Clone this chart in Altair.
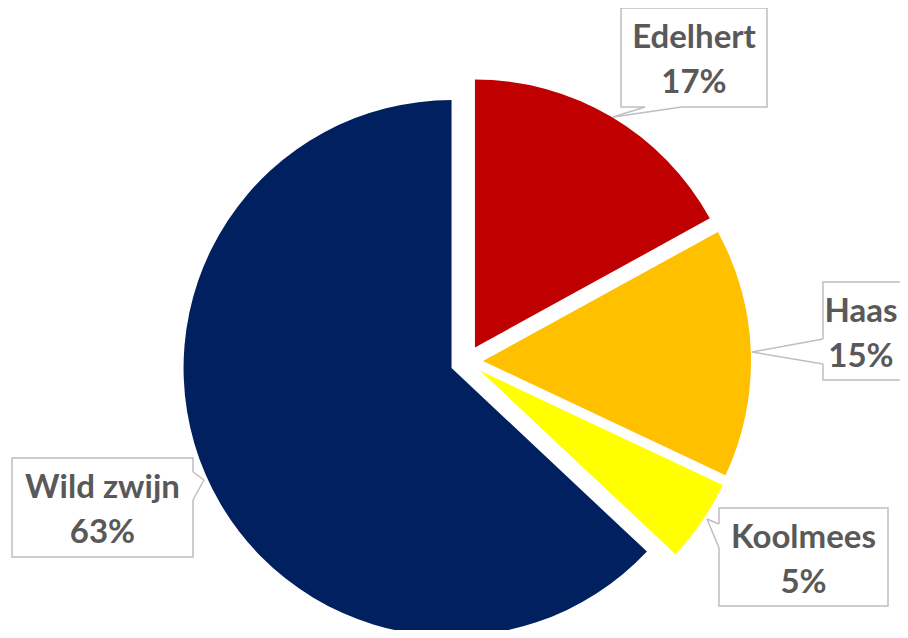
import altair as alt
import pandas as pd

# ---- data ----
categories = ["Edelhert", "Haas", "Koolmees", "Wild zwijn"]
values = [17, 15, 5, 63]
colors = ["#C00000", "#FFC000", "#FFFF00", "#002060"]

# ---- layout (pixels inside the chart) ----
PIE_CX, PIE_CY, PIE_R, EXPLODE = 458.6, 353.6, 268, 16.4
box_x1 = [613, 815, 711, 4]
box_x2 = [759, 912, 880, 185]
box_y1 = [0, 274, 500, 450]
box_y2 = [99, 372, 598, 549]
ptr_ax = [637, 815, 711, 185]
ptr_ay = [99, 331, 516, 464]
ptr_bx = [674, 815, 711, 185]
ptr_by = [99, 356, 540, 492]
tip_x = [605, 744, 699, 196]
tip_y = [109, 344, 511, 472]
text_x = [686, 853, 795.5, 94.5]

W, H = 892, 622
FONT = "Lato"
FS = 33
TXT = "#595959"
BORDER = "#BFBFBF"

pie_df = pd.DataFrame({"cat": categories, "value": values, "order": list(range(len(categories)))})

pie = (
    alt.Chart(pie_df)
    .transform_joinaggregate(total="sum(value)")
    .transform_window(cum="sum(value)", sort=[alt.SortField("order")], frame=[None, 0])
    .transform_calculate(t0="2*PI*(datum.cum - datum.value)/datum.total")
    .transform_calculate(t1="2*PI*datum.cum/datum.total")
    .transform_calculate(mid="(datum.t0 + datum.t1)/2")
    .transform_calculate(cx=f"{PIE_CX} + {EXPLODE}*sin(datum.mid)")
    .transform_calculate(cy=f"{PIE_CY} - {EXPLODE}*cos(datum.mid)")
    .mark_arc(radius=PIE_R)
    .encode(
        theta=alt.Theta("t0:Q", scale=None),
        theta2="t1:Q",
        x=alt.X("cx:Q", scale=None),
        y=alt.Y("cy:Q", scale=None),
        color=alt.Color("cat:N", scale=alt.Scale(domain=categories, range=colors), legend=None),
    )
)

lab_df = pd.DataFrame({
    "cat": categories, "value": values,
    "bx1": box_x1, "bx2": box_x2, "by1": box_y1, "by2": box_y2,
    "ax": ptr_ax, "ay": ptr_ay, "bx": ptr_bx, "by": ptr_by,
    "tx": tip_x, "ty": tip_y, "cxt": text_x,
})

base = alt.Chart(lab_df)

boxes = base.mark_rect(fill="white", stroke=BORDER, strokeWidth=1.5).encode(
    x=alt.X("bx1:Q", scale=None), x2="bx2:Q",
    y=alt.Y("by1:Q", scale=None), y2="by2:Q",
)
cover = base.mark_rule(color="white", strokeWidth=3).encode(
    x=alt.X("ax:Q", scale=None), x2="bx:Q",
    y=alt.Y("ay:Q", scale=None), y2="by:Q",
)
line_a = base.mark_rule(color=BORDER, strokeWidth=1.5).encode(
    x=alt.X("ax:Q", scale=None), x2="tx:Q",
    y=alt.Y("ay:Q", scale=None), y2="ty:Q",
)
line_b = base.mark_rule(color=BORDER, strokeWidth=1.5).encode(
    x=alt.X("bx:Q", scale=None), x2="tx:Q",
    y=alt.Y("by:Q", scale=None), y2="ty:Q",
)

name_txt = base.transform_calculate(ly="datum.by1 + 40").mark_text(
    font=FONT, fontSize=FS, fontWeight="bold", color=TXT, align="center", baseline="alphabetic"
).encode(
    x=alt.X("cxt:Q", scale=None), y=alt.Y("ly:Q", scale=None), text="cat:N"
)
pct_txt = (
    base.transform_joinaggregate(total="sum(value)")
    .transform_calculate(pct="format(datum.value/datum.total, '.0%')")
    .transform_calculate(ly="datum.by1 + 85")
    .mark_text(font=FONT, fontSize=FS, fontWeight="bold", color=TXT, align="center", baseline="alphabetic")
    .encode(x=alt.X("cxt:Q", scale=None), y=alt.Y("ly:Q", scale=None), text="pct:N")
)

chart = alt.layer(pie, boxes, cover, line_a, line_b, name_txt, pct_txt).properties(
    width=W, height=H, autosize=alt.AutoSizeParams(type="none"), padding=0
).configure_view(stroke=None)

chart.save("out.html", embed_options={"renderer": "svg", "actions": False})
